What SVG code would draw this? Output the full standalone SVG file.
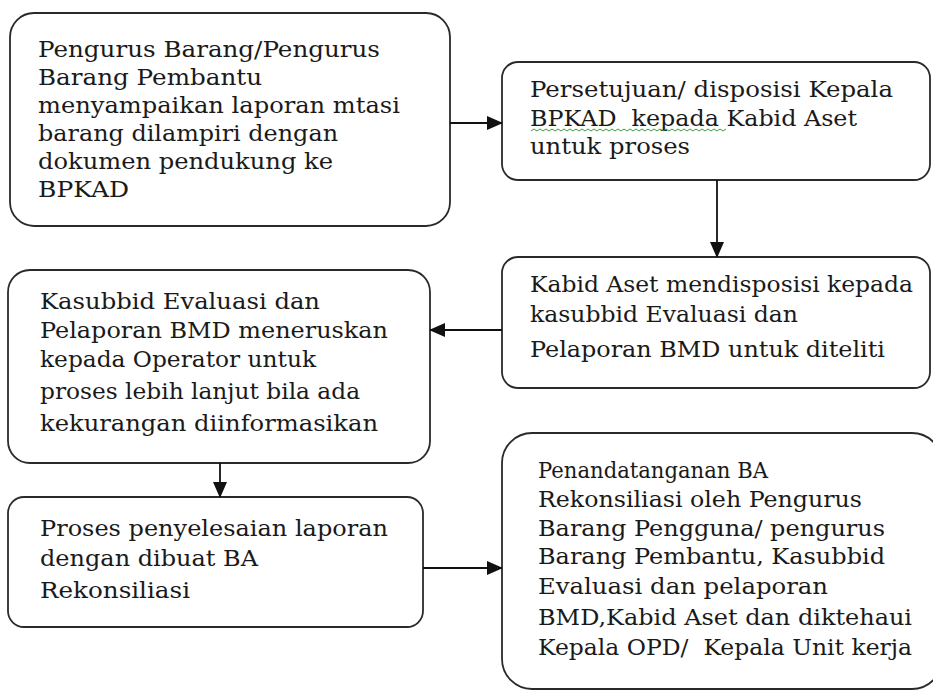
<svg xmlns="http://www.w3.org/2000/svg" width="933" height="693" viewBox="0 0 933 693">
<defs>
<marker id="ah" markerWidth="16" markerHeight="16" refX="15" refY="8" orient="auto" markerUnits="userSpaceOnUse">
<path d="M0,1 L16,8 L0,15 Z" fill="#111"/>
</marker>
<style>
.box{fill:#fff;stroke:#2a2a2a;stroke-width:1.8}
.t{font-family:"DejaVu Serif","Liberation Serif",serif;font-size:22px;fill:#1a1a1a}
.c{stroke:#111;stroke-width:1.8;fill:none}
</style>
</defs>
<rect width="933" height="693" fill="#fff"/>

<g id="n1">
<rect class="box" x="10" y="13" width="440" height="213" rx="24"/>
<text class="t" x="38" y="57" textLength="342" lengthAdjust="spacingAndGlyphs">Pengurus Barang/Pengurus</text>
<text class="t" x="38" y="85" textLength="224" lengthAdjust="spacingAndGlyphs">Barang Pembantu</text>
<text class="t" x="38" y="113" textLength="362" lengthAdjust="spacingAndGlyphs">menyampaikan laporan mtasi</text>
<text class="t" x="38" y="141" textLength="300" lengthAdjust="spacingAndGlyphs">barang dilampiri dengan</text>
<text class="t" x="38" y="169" textLength="295" lengthAdjust="spacingAndGlyphs">dokumen pendukung ke</text>
<text class="t" x="38" y="197" textLength="91" lengthAdjust="spacingAndGlyphs">BPKAD</text>
</g>

<g id="n2">
<rect class="box" x="502" y="62" width="428" height="118" rx="16"/>
<text class="t" x="530" y="97" textLength="363" lengthAdjust="spacingAndGlyphs">Persetujuan/ disposisi Kepala</text>
<text class="t" x="530" y="126" textLength="327" lengthAdjust="spacingAndGlyphs" xml:space="preserve">BPKAD  kepada Kabid Aset</text>
<text class="t" x="530" y="154" textLength="160" lengthAdjust="spacingAndGlyphs">untuk proses</text>
<path d="M531,131 l3,-2 l3,2 l3,-2 l3,2 l3,-2 l3,2 l3,-2 l3,2 l3,-2 l3,2 l3,-2 l3,2 l3,-2 l3,2 l3,-2 l3,2 l3,-2 l3,2 l3,-2 l3,2 l3,-2 l3,2 l3,-2 l3,2 l3,-2 l3,2 l3,-2 l3,2 l3,-2 l3,2 l3,-2 l3,2 l3,-2 l3,2 l3,-2 l3,2 l3,-2 l3,2 l3,-2 l3,2 l3,-2 l3,2 l3,-2 l3,2 l3,-2 l3,2 l3,-2 l3,2 l3,-2 l3,2 l3,-2 l3,2 l3,-2 l3,2 l3,-2 l3,2 l3,-2 l3,2 l3,-2 l3,2 l3,-2 l3,2 l3,-2 l3,2 l3,-2" fill="none" stroke="#3a9a3a" stroke-width="1"/>
</g>

<g id="n3">
<rect class="box" x="502" y="257" width="428" height="131" rx="16"/>
<text class="t" x="530" y="292" textLength="383" lengthAdjust="spacingAndGlyphs">Kabid Aset mendisposisi kepada</text>
<text class="t" x="530" y="322" textLength="268" lengthAdjust="spacingAndGlyphs">kasubbid Evaluasi dan</text>
<text class="t" x="530" y="357" textLength="355" lengthAdjust="spacingAndGlyphs">Pelaporan BMD untuk diteliti</text>
</g>

<g id="n4">
<rect class="box" x="8" y="270" width="422" height="193" rx="22"/>
<text class="t" x="40" y="309" textLength="280" lengthAdjust="spacingAndGlyphs">Kasubbid Evaluasi dan</text>
<text class="t" x="40" y="338" textLength="348" lengthAdjust="spacingAndGlyphs">Pelaporan BMD meneruskan</text>
<text class="t" x="40" y="367" textLength="276" lengthAdjust="spacingAndGlyphs">kepada Operator untuk</text>
<text class="t" x="40" y="399" textLength="320" lengthAdjust="spacingAndGlyphs">proses lebih lanjut bila ada</text>
<text class="t" x="40" y="431" textLength="338" lengthAdjust="spacingAndGlyphs">kekurangan diinformasikan</text>
</g>

<g id="n5">
<rect class="box" x="8" y="497" width="415" height="130" rx="16"/>
<text class="t" x="40" y="536" textLength="348" lengthAdjust="spacingAndGlyphs">Proses penyelesaian laporan</text>
<text class="t" x="40" y="566" textLength="218" lengthAdjust="spacingAndGlyphs">dengan dibuat BA</text>
<text class="t" x="40" y="598" textLength="150" lengthAdjust="spacingAndGlyphs">Rekonsiliasi</text>
</g>

<g id="n6">
<rect class="box" x="502" y="433" width="440" height="256" rx="30"/>
<text class="t" x="538" y="478" textLength="230" lengthAdjust="spacingAndGlyphs">Penandatanganan BA</text>
<text class="t" x="538" y="507" textLength="324" lengthAdjust="spacingAndGlyphs">Rekonsiliasi oleh Pengurus</text>
<text class="t" x="538" y="536" textLength="347" lengthAdjust="spacingAndGlyphs">Barang Pengguna/ pengurus</text>
<text class="t" x="538" y="564" textLength="347" lengthAdjust="spacingAndGlyphs">Barang Pembantu, Kasubbid</text>
<text class="t" x="538" y="594" textLength="290" lengthAdjust="spacingAndGlyphs">Evaluasi dan pelaporan</text>
<text class="t" x="538" y="625" textLength="374" lengthAdjust="spacingAndGlyphs">BMD,Kabid Aset dan diktehaui</text>
<text class="t" x="538" y="655" textLength="374" lengthAdjust="spacingAndGlyphs" xml:space="preserve">Kepala OPD/  Kepala Unit kerja</text>
</g>

<g id="connectors">
<line class="c" x1="450" y1="123" x2="502" y2="123" marker-end="url(#ah)"/>
<line class="c" x1="717" y1="180" x2="717" y2="257" marker-end="url(#ah)"/>
<line class="c" x1="502" y1="330" x2="430" y2="330" marker-end="url(#ah)"/>
<line class="c" x1="220" y1="463" x2="220" y2="497" marker-end="url(#ah)"/>
<line class="c" x1="423" y1="568" x2="502" y2="568" marker-end="url(#ah)"/>
</g>
</svg>
